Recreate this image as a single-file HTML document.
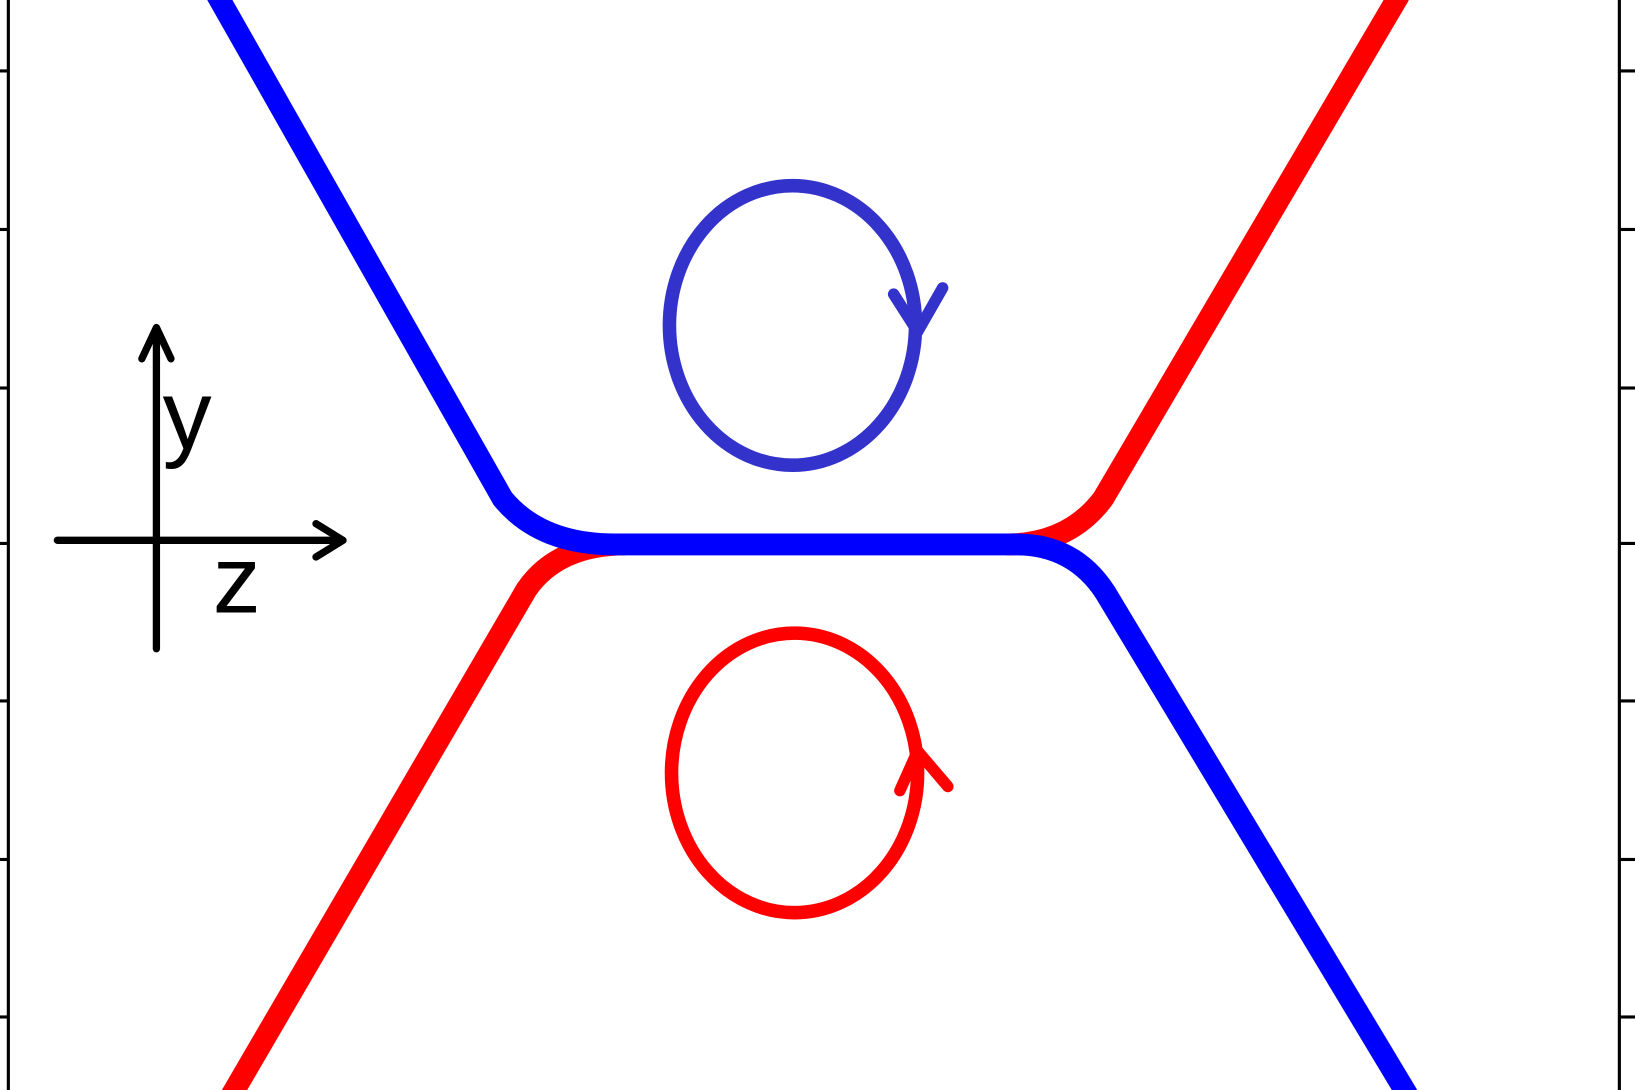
<!DOCTYPE html>
<html><head><meta charset="utf-8"><style>
html,body{margin:0;padding:0;background:#fff;width:1635px;height:1090px;overflow:hidden}
svg{display:block}
</style></head><body>
<svg width="1635" height="1090" viewBox="0 0 1568 1045" preserveAspectRatio="none" xmlns="http://www.w3.org/2000/svg">
<rect width="1568" height="1045" fill="#fff"/>
<g stroke="#000" stroke-width="3" fill="none">
<line x1="8" y1="0" x2="8" y2="1045"/>
<line x1="1553" y1="0" x2="1553" y2="1045"/>
<line x1="0" y1="68" x2="8" y2="68"/><line x1="0" y1="220" x2="8" y2="220"/><line x1="0" y1="372" x2="8" y2="372"/><line x1="0" y1="521" x2="8" y2="521"/><line x1="0" y1="672" x2="8" y2="672"/><line x1="0" y1="824" x2="8" y2="824"/><line x1="0" y1="975" x2="8" y2="975"/>
<line x1="1553" y1="68" x2="1568" y2="68"/><line x1="1553" y1="220" x2="1568" y2="220"/><line x1="1553" y1="372" x2="1568" y2="372"/><line x1="1553" y1="521" x2="1568" y2="521"/><line x1="1553" y1="672" x2="1568" y2="672"/><line x1="1553" y1="824" x2="1568" y2="824"/><line x1="1553" y1="975" x2="1568" y2="975"/>
</g>
<g stroke="#000" stroke-width="7" fill="none" stroke-linecap="round" stroke-linejoin="round">
<line x1="150" y1="316" x2="150" y2="622"/>
<line x1="55" y1="518" x2="328" y2="518"/>
<polyline points="136,344 150,314 164,344"/>
<polyline points="303,502 329,518 303,534"/>
</g>
<text x="156" y="430" font-family="Liberation Sans, DejaVu Sans, sans-serif" font-size="94" fill="#000">y</text>
<text x="204" y="587" font-family="Liberation Sans, DejaVu Sans, sans-serif" font-size="92" fill="#000">z</text>
<g fill="none" stroke-width="21" stroke-linecap="butt">
<path d="M1342,-5 L1058,478 Q1025,522 965,522" stroke="#ff0000"/>
<path d="M222,1050 L505,565 Q535,522 600,522" stroke="#ff0000"/>
<path d="M208,-5 L482,478 Q518,522 590,522 L975,522 Q1030,522 1060,568 L1350,1050" stroke="#0000ff"/>
</g>
<ellipse cx="760" cy="312" rx="118" ry="134" fill="none" stroke="#3333cc" stroke-width="13"/>
<polyline points="857,282 880,318 904,276" fill="none" stroke="#3333cc" stroke-width="11" stroke-linejoin="round" stroke-linecap="round"/>
<ellipse cx="762" cy="741" rx="118" ry="134" fill="none" stroke="#ff0000" stroke-width="13"/>
<polyline points="863,758 880,720 909,754" fill="none" stroke="#ff0000" stroke-width="11" stroke-linejoin="round" stroke-linecap="round"/>
</svg>
</body></html>
